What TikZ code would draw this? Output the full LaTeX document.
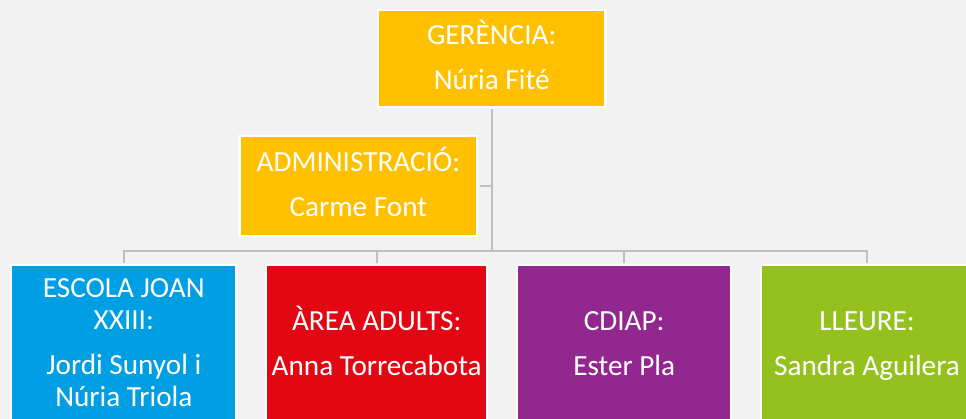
\documentclass[tikz,border=0pt]{standalone}
\usepackage{fontspec}
\setmainfont{Carlito}
\usetikzlibrary{positioning}

\definecolor{bggray}{HTML}{F2F2F2}
\definecolor{linegray}{HTML}{BFBFBF}
\definecolor{gold}{HTML}{FFC000}
\definecolor{escblue}{HTML}{009FE3}
\definecolor{adured}{HTML}{E30613}
\definecolor{cdipurple}{HTML}{92278F}
\definecolor{llegreen}{HTML}{95C11F}

\newcommand{\chartfont}{\fontsize{29.2}{32}\selectfont}

\begin{document}
\begin{tikzpicture}[x=1pt, y=-1pt]

  \tikzstyle{unitbox} = [rectangle, draw=white, line width=2.3pt, inner sep=0pt, text=white, align=center, font=\chartfont]
  \tikzstyle{headbox} = [unitbox, fill=gold]
  \tikzstyle{areabox} = [unitbox, text height=109.8pt, text depth=46pt]
  \tikzstyle{link} = [draw=linegray, line width=1.8pt]

  \useasboundingbox (0,0) rectangle (966,419);
  \fill [bggray] (0,0) rectangle (966,419);
  \clip (0,0) rectangle (966,419);

  \node (ger) [headbox, minimum width=227.7pt, text height=79.7pt, text depth=17.2pt] at (491.7,58.7) {GERÈNCIA:\\[13pt]Núria Fité};
  \node (adm) [headbox, minimum width=237.8pt, text height=80.5pt, text depth=19.5pt] at (358.4,186.2) {ADMINISTRACIÓ:\\[13pt]Carme Font};

  \node (esc) [unitbox, fill=escblue, minimum width=225.3pt, text height=141.5pt, text depth=14.3pt] at (123.8,343.1) {ESCOLA JOAN\\XXIII:\\[13pt]Jordi Sunyol i\\Núria Triola};
  \node (adu) [areabox, fill=adured, minimum width=221pt] at (376.7,343.1) {ÀREA ADULTS:\\[13pt]Anna Torrecabota};
  \node (cdi) [areabox, fill=cdipurple, minimum width=214pt] at (624.2,343.1) {CDIAP:\\[13pt]Ester Pla};
  \node (lle) [areabox, fill=llegreen, minimum width=211.6pt] at (867,343.1) {LLEURE:\\[13pt]Sandra Aguilera};

  \coordinate (bus) at (491.7,250.7);
  \draw [link, shorten <=1.2pt] (ger.south) -- (bus);
  \draw [link, shorten <=1.2pt] (adm.east) -- (adm.east -| ger.south);
  \foreach \unit in {esc, adu, cdi, lle}
    \draw [link, shorten >=1.2pt] (bus) -| (\unit.north);

\end{tikzpicture}
\end{document}
